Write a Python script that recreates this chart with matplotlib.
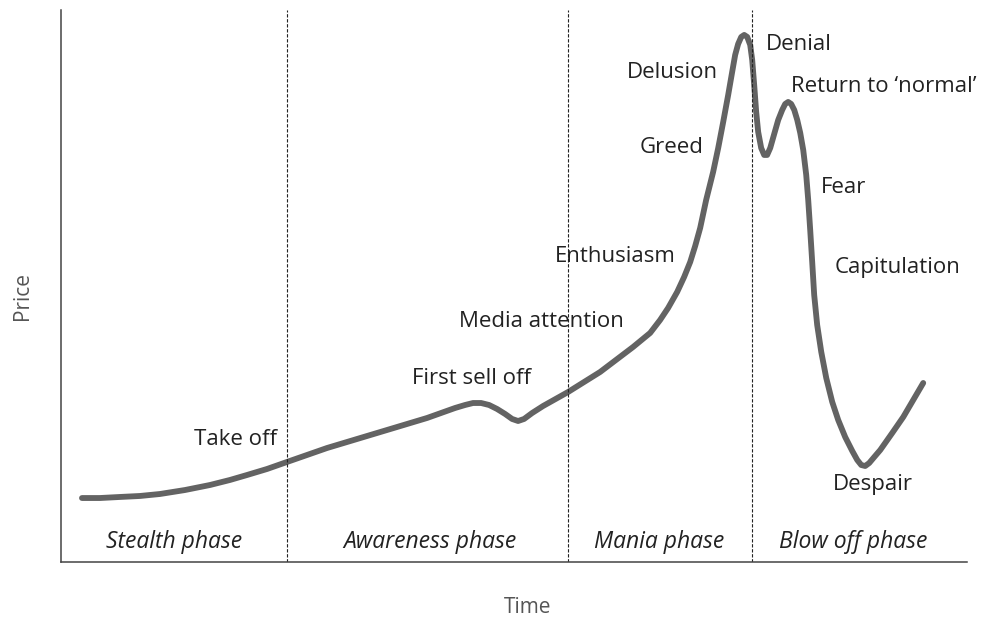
import matplotlib.pyplot as plt

plt.rcParams['font.family'] = ['Open Sans', 'DejaVu Sans']

# Price path of a bubble (time and price in arbitrary units, 0-100)
time = [2.32, 4.30, 6.51, 8.72, 10.93, 13.69, 16.45, 18.65, 20.53, 22.74,
        24.94, 29.36, 34.88, 40.40, 43.49, 44.59, 45.47, 46.36, 47.24, 48.12,
        49.01, 49.78, 50.44, 51.10, 51.99, 53.20, 55.96, 59.49, 63.13, 65.01,
        66.11, 66.99, 67.99, 68.76, 69.43, 69.98, 70.53, 71.19, 71.96, 72.52,
        73.07, 73.62, 74.06, 74.39, 74.72, 75.06, 75.39, 75.72, 76.05, 76.27,
        76.49, 76.71, 76.93, 77.26, 77.59, 77.92, 78.26, 78.70, 79.14, 79.58,
        79.91, 80.24, 80.57, 80.91, 81.24, 81.57, 81.90, 82.23, 82.45, 82.67,
        82.89, 83.11, 83.44, 83.89, 84.44, 85.10, 85.76, 86.53, 87.31, 87.86,
        88.30, 88.74, 89.18, 89.74, 90.40, 91.72, 92.94, 94.04, 95.14]
price = [11.59, 11.59, 11.78, 11.96, 12.32, 13.04, 13.95, 14.86, 15.76, 16.85,
         18.12, 20.65, 23.37, 26.09, 27.90, 28.44, 28.80, 28.80, 28.44, 27.72,
         26.81, 25.91, 25.54, 25.91, 26.99, 28.26, 30.80, 34.42, 38.95, 41.49,
         43.84, 46.01, 48.91, 51.63, 54.35, 57.25, 60.51, 65.58, 70.65, 75.00,
         79.71, 84.60, 88.77, 91.85, 93.84, 95.11, 95.47, 95.11, 93.66, 90.94,
         86.41, 81.52, 77.90, 75.00, 73.73, 73.73, 75.00, 77.54, 80.07, 81.88,
         82.97, 83.33, 82.97, 81.88, 80.07, 77.72, 74.64, 70.11, 65.58, 60.14,
         54.35, 48.37, 42.93, 38.04, 33.33, 28.99, 25.72, 22.64, 20.11, 18.48,
         17.57, 17.39, 17.93, 19.02, 20.29, 23.37, 26.27, 29.35, 32.43]

# Phase boundaries and phase names
phase_bounds = [24.9, 56.0, 76.3]
phase_names = ['Stealth phase', 'Awareness phase', 'Mania phase', 'Blow off phase']
phase_centers = [12.5, 40.7, 66.0, 87.4]

# Sentiment labels: text, time, price, alignment
stage_labels = ['Take off', 'First sell off', 'Media attention', 'Enthusiasm',
                'Greed', 'Delusion', 'Denial', 'Return to \u2018normal\u2019',
                'Fear', 'Capitulation', 'Despair']
stage_t = [23.8, 38.7, 43.9, 54.5, 63.9, 62.4, 77.8, 80.5, 83.8, 85.4, 85.2]
stage_p = [22.1, 33.3, 43.5, 55.4, 75.0, 88.6, 93.7, 86.1, 67.9, 53.3, 14.1]
stage_ha = ['right'] + ['left'] * 10

fig = plt.figure(figsize=(9.83, 6.21), dpi=100)
ax = fig.add_axes([0.062, 0.095, 0.922, 0.889])

ax.plot(time, price, color='#636363', lw=4.2, solid_capstyle='round',
        solid_joinstyle='round')

for b in phase_bounds:
    ax.axvline(b, color='#222222', lw=0.8, linestyle=(0, (3, 1.5)))

for name, c in zip(phase_names, phase_centers):
    ax.text(c, 3.6, name, ha='center', va='center', fontsize=16.5,
            style='italic', color='#222222')

for s, t, p, ha in zip(stage_labels, stage_t, stage_p, stage_ha):
    ax.text(t, p, s, ha=ha, va='center', fontsize=16, color='#222222')

ax.set_xlim(0, 100)
ax.set_ylim(0, 100)
ax.set_xticks([])
ax.set_yticks([])
for side in ['top', 'right']:
    ax.spines[side].set_visible(False)
for side in ['left', 'bottom']:
    ax.spines[side].set_color('#444444')
    ax.spines[side].set_linewidth(1.1)

ax.set_xlabel('Time', fontsize=15, color='#555555')
ax.set_ylabel('Price', fontsize=15, color='#555555')
ax.xaxis.set_label_coords(0.515, -0.063)
ax.yaxis.set_label_coords(-0.031, 0.482)

fig.savefig('out.png', dpi=100)
